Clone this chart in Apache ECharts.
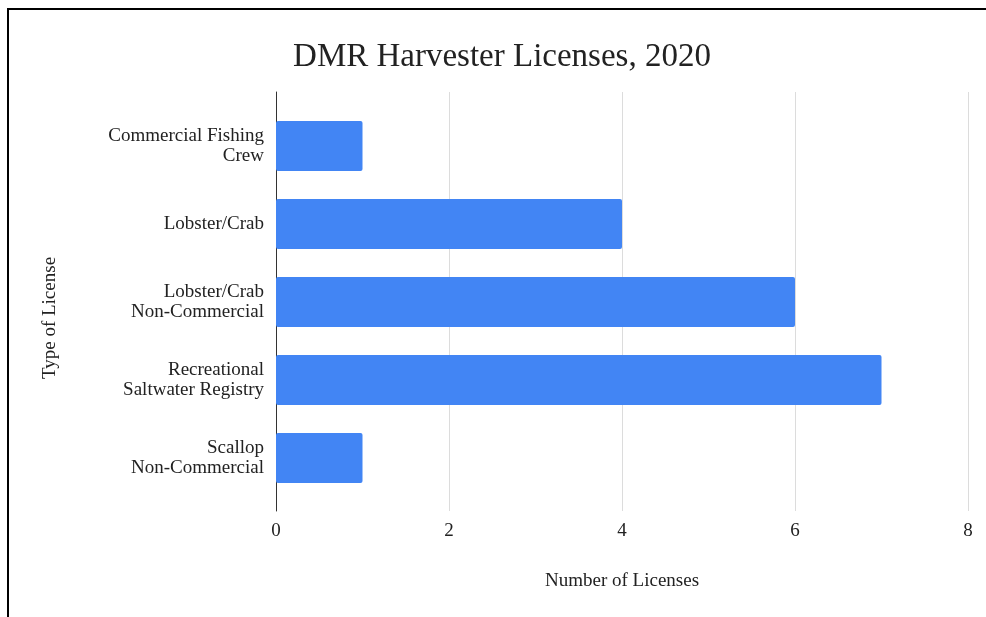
<!DOCTYPE html>
<html>
<head>
<meta charset="utf-8">
<style>
  html, body { margin: 0; padding: 0; background: #fff; }
  #frame { position: absolute; left: 7px; top: 8px; width: 979px; height: 609px;
           border-left: 2px solid #000; border-top: 2px solid #000; box-sizing: border-box; }
  #chart { position: absolute; left: 0; top: 0; width: 986px; height: 617px; }
</style>
<script src="https://cdn.jsdelivr.net/npm/echarts@6/dist/echarts.min.js"></script>
</head>
<body>
<div id="chart"></div>
<div id="frame"></div>
<script>
// License types (top to bottom) and their counts
const licenseTypes = [
  'Commercial Fishing\nCrew',
  'Lobster/Crab',
  'Lobster/Crab\nNon-Commercial',
  'Recreational\nSaltwater Registry',
  'Scallop\nNon-Commercial'
];
const licenseCounts = [1, 4, 6, 7, 1];
const xTicks = [0, 2, 4, 6, 8];

const serif = '"Liberation Serif", "DejaVu Serif", serif';
const textColor = '#222';
const chart = echarts.init(document.getElementById('chart'), null, { renderer: 'canvas' });

// Two grids share the same horizontal extent: the outer one carries the
// gridlines, the vertical axis line and the tick labels; the inner one
// holds the bars and their category labels.
const gridLeft = 276, gridRight = 18;

chart.setOption({
  backgroundColor: '#fff',
  animation: false,
  title: {
    text: 'DMR Harvester Licenses, 2020',
    left: 497,
    textAlign: 'center',
    top: 36,
    textStyle: { fontFamily: serif, fontSize: 33, fontWeight: 'normal', color: textColor }
  },
  grid: [
    { left: gridLeft, right: gridRight, top: 92, bottom: 106 },
    { left: gridLeft, right: gridRight, top: 107, bottom: 120 }
  ],
  xAxis: [
    {
      gridIndex: 0,
      type: 'value',
      min: xTicks[0],
      max: xTicks[xTicks.length - 1],
      interval: 2,
      name: 'Number of Licenses',
      nameLocation: 'middle',
      nameGap: 61,
      nameTextStyle: { fontFamily: serif, fontSize: 19, color: textColor },
      axisLine: { show: false },
      axisTick: { show: false },
      axisLabel: { fontFamily: serif, fontSize: 19, color: textColor, margin: 11 },
      splitLine: { show: true, lineStyle: { color: '#dcdcdc', width: 1 } }
    },
    {
      gridIndex: 1,
      type: 'value',
      min: xTicks[0],
      max: xTicks[xTicks.length - 1],
      interval: 2,
      show: false
    }
  ],
  yAxis: [
    {
      gridIndex: 0,
      type: 'value',
      min: 0,
      max: 1,
      axisLine: { show: true, lineStyle: { color: '#333', width: 1 } },
      axisTick: { show: false },
      axisLabel: { show: false },
      splitLine: { show: false }
    },
    {
      gridIndex: 1,
      type: 'category',
      inverse: true,
      data: licenseTypes,
      axisLine: { show: false },
      axisTick: { show: false },
      axisLabel: { fontFamily: serif, fontSize: 19, color: textColor, margin: 12, lineHeight: 20, align: 'right' },
      splitLine: { show: false }
    }
  ],
  graphic: [{
    type: 'text',
    x: 50,
    y: 318,
    rotation: Math.PI / 2,
    style: {
      text: 'Type of License',
      font: '19px ' + serif,
      fill: textColor,
      align: 'center',
      verticalAlign: 'middle'
    }
  }],
  series: [{
    type: 'bar',
    xAxisIndex: 1,
    yAxisIndex: 1,
    data: licenseCounts,
    barCategoryGap: '36%',
    itemStyle: { color: '#4285F4', borderRadius: 2 }
  }]
});
</script>
</body>
</html>
